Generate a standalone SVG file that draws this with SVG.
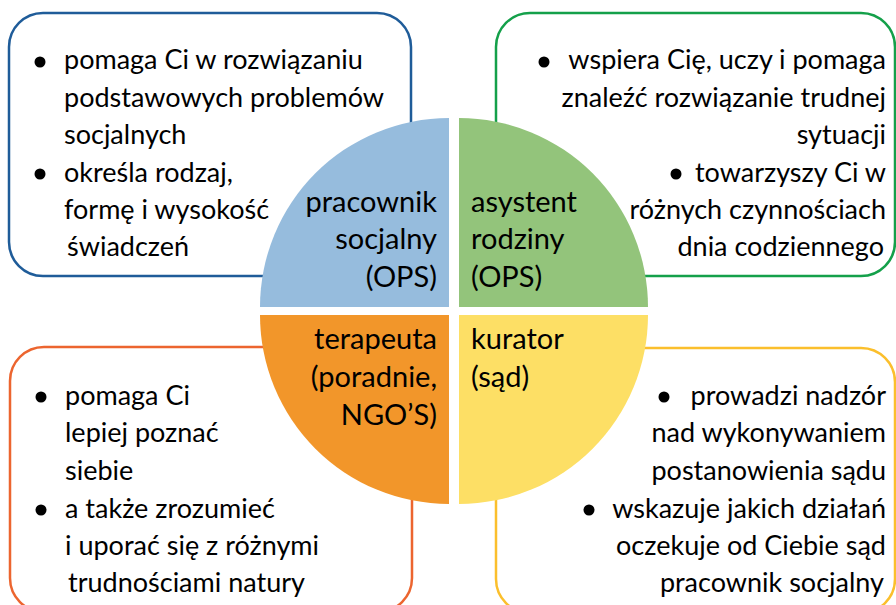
<svg xmlns="http://www.w3.org/2000/svg" width="896" height="605" viewBox="0 0 896 605">
<style>
.box{fill:#fff;stroke-width:2.5}
text{font-family:Lato,"Open Sans","Liberation Sans",sans-serif;font-size:27px;fill:#000}
.lbl{font-size:29px}
.r{text-anchor:end}
.dot{fill:#000}
</style>
<rect width="896" height="605" fill="#fff"/>
<g id="box-tl">
<rect class="box" x="9" y="13" width="402" height="263" rx="34" stroke="#1f5c99"/>
<circle class="dot" cx="40" cy="62" r="5.5"/>
<text x="64" y="69">pomaga Ci w rozwiązaniu</text>
<text x="64" y="107">podstawowych problemów</text>
<text x="64" y="144">socjalnych</text>
<circle class="dot" cx="40" cy="174" r="5.5"/>
<text x="64" y="182">określa rodzaj,</text>
<text x="64" y="219">formę i wysokość</text>
<text x="67" y="256">świadczeń</text>
</g>
<g id="box-tr">
<rect class="box" x="496" y="13" width="399" height="263" rx="34" stroke="#14a04a"/>
<circle class="dot" cx="544" cy="62" r="5.5"/>
<text class="r" x="886" y="69">wspiera Cię, uczy i pomaga</text>
<text class="r" x="886" y="107">znaleźć rozwiązanie trudnej</text>
<text class="r" x="886" y="144">sytuacji</text>
<circle class="dot" cx="676" cy="174" r="5.5"/>
<text class="r" x="886" y="182">towarzyszy Ci w</text>
<text class="r" x="886" y="219">różnych czynnościach</text>
<text class="r" x="884" y="256">dnia codziennego</text>
</g>
<g id="box-bl">
<rect class="box" x="10" y="347" width="402" height="265" rx="34" stroke="#ec652f"/>
<circle class="dot" cx="41" cy="397" r="5.5"/>
<text x="65" y="405">pomaga Ci</text>
<text x="65" y="442">lepiej poznać</text>
<text x="65" y="480">siebie</text>
<circle class="dot" cx="41" cy="510" r="5.5"/>
<text x="65" y="518">a także zrozumieć</text>
<text x="65" y="555">i uporać się z różnymi</text>
<text x="68" y="592">trudnościami natury</text>
</g>
<g id="box-br">
<rect class="box" x="496" y="348" width="399" height="265" rx="34" stroke="#fbbf2c"/>
<circle class="dot" cx="664" cy="397" r="5.5"/>
<text class="r" x="886" y="405">prowadzi nadzór</text>
<text class="r" x="886" y="442">nad wykonywaniem</text>
<text class="r" x="886" y="480">postanowienia sądu</text>
<circle class="dot" cx="589" cy="510" r="5.5"/>
<text class="r" x="886" y="518">wskazuje jakich działań</text>
<text class="r" x="886" y="555">oczekuje od Ciebie sąd</text>
<text class="r" x="884" y="592">pracownik socjalny</text>
</g>
<g id="q-blue">
<path d="M449 307 L260 307 A189 189 0 0 1 449 118 Z" fill="#96bcdd"/>
<text class="lbl r" x="437" y="212">pracownik</text>
<text class="lbl r" x="437" y="249">socjalny</text>
<text class="lbl r" x="437" y="287">(OPS)</text>
</g>
<g id="q-green">
<path d="M459 307 L459 118 A189 189 0 0 1 648 307 Z" fill="#93c47b"/>
<text class="lbl" x="471" y="212">asystent</text>
<text class="lbl" x="471" y="249">rodziny</text>
<text class="lbl" x="471" y="287">(OPS)</text>
</g>
<g id="q-orange">
<path d="M449 315 L449 504 A189 189 0 0 1 260 315 Z" fill="#f2962a"/>
<text class="lbl r" x="437" y="349">terapeuta</text>
<text class="lbl r" x="437" y="387">(poradnie,</text>
<text class="lbl r" x="437" y="425">NGO’S)</text>
</g>
<g id="q-yellow">
<path d="M459 315 L648 315 A189 189 0 0 1 459 504 Z" fill="#fddf65"/>
<text class="lbl" x="471" y="349">kurator</text>
<text class="lbl" x="471" y="387">(sąd)</text>
</g>
</svg>
